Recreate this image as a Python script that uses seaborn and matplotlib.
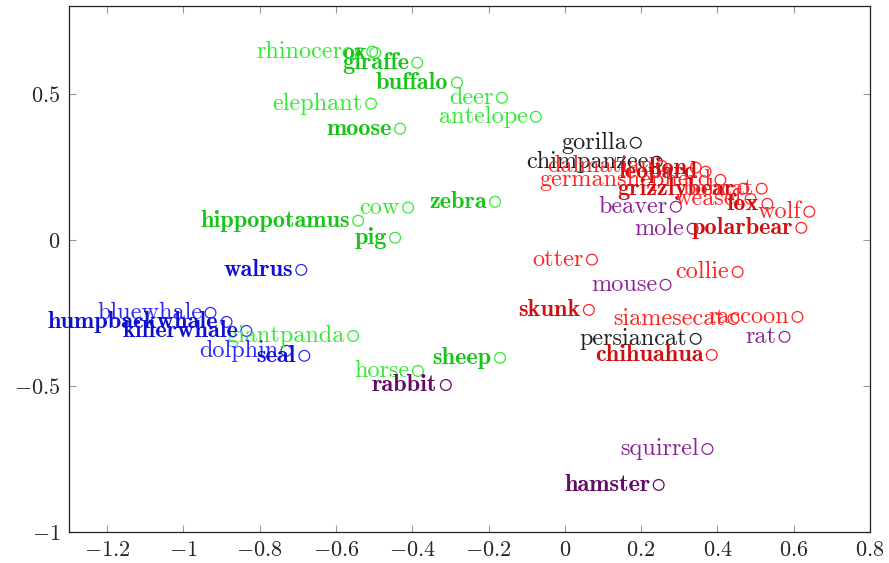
import matplotlib
matplotlib.use("Agg")
import matplotlib.pyplot as plt
from matplotlib.ticker import FuncFormatter
import seaborn as sns
import pandas as pd

# point labels, coordinates, colour group and bold flag
names = ["rhinoceros", "ox", "giraffe", "buffalo", "deer", "elephant", "antelope", "moose",
         "cow", "zebra", "hippopotamus", "pig", "horse", "sheep", "giantpanda",
         "walrus", "bluewhale", "humpbackwhale", "killerwhale", "dolphin", "seal",
         "gorilla", "chimpanzee", "persiancat",
         "dalmatian", "lion", "leopard", "germanshepherd", "grizzlybear", "bobcat", "weasel",
         "fox", "wolf", "polarbear", "otter", "collie", "skunk", "siamesecat", "raccoon", "chihuahua",
         "beaver", "mole", "mouse", "rat", "squirrel", "rabbit", "hamster"]
xs = [-0.505, -0.497, -0.387, -0.283, -0.165, -0.508, -0.076, -0.432,
      -0.411, -0.183, -0.542, -0.445, -0.385, -0.170, -0.555,
      -0.691, -0.929, -0.887, -0.835, -0.730, -0.683,
      0.186, 0.241, 0.343,
      0.254, 0.343, 0.369, 0.408, 0.468, 0.516, 0.487,
      0.531, 0.641, 0.620, 0.071, 0.453, 0.063, 0.442, 0.610, 0.385,
      0.291, 0.335, 0.264, 0.576, 0.374, -0.312, 0.246]
ys = [0.644, 0.640, 0.606, 0.538, 0.486, 0.466, 0.421, 0.380,
      0.110, 0.130, 0.065, 0.007, -0.449, -0.404, -0.329,
      -0.103, -0.250, -0.281, -0.312, -0.380, -0.397,
      0.332, 0.267, -0.339,
      0.253, 0.247, 0.233, 0.205, 0.175, 0.175, 0.140,
      0.123, 0.096, 0.041, -0.068, -0.110, -0.240, -0.271, -0.264, -0.394,
      0.113, 0.038, -0.154, -0.332, -0.716, -0.497, -0.839]
groups = ["green"] * 15 + ["blue"] * 6 + ["black"] * 3 + ["red"] * 16 + ["purple"] * 7
bold_names = ["ox", "giraffe", "buffalo", "moose", "zebra", "hippopotamus", "pig", "sheep",
              "walrus", "humpbackwhale", "killerwhale", "seal", "lion", "leopard", "grizzlybear",
              "fox", "polarbear", "skunk", "chihuahua", "rabbit", "hamster"]

df = pd.DataFrame({"name": names, "x": xs, "y": ys, "group": groups})
df["bold"] = df["name"].isin(bold_names)

light = {"green": "#33ea33", "blue": "#2a2aff", "black": "#202020", "red": "#ff2424", "purple": "#8a2596"}
dark = {"green": "#18c418", "blue": "#1010d0", "black": "#000000", "red": "#d01010", "purple": "#620a66"}
# circles of bold points take the darker shade only for the dark-purple group
df["shade"] = [("d_" if (b and g == "purple") else "l_") + g for g, b in zip(df["group"], df["bold"])]
palette = {**{"l_" + k: v for k, v in light.items()}, **{"d_" + k: v for k, v in dark.items()}}

sns.set_style("ticks")
plt.rcParams["font.family"] = ["cmr10", "DejaVu Serif"]
plt.rcParams["mathtext.fontset"] = "cm"
plt.rcParams["axes.formatter.use_mathtext"] = True

fig = plt.figure(figsize=(8.89, 5.63), dpi=100)
ax = fig.add_axes([0.0776, 0.0551, 0.9010, 0.9342])

sns.scatterplot(data=df, x="x", y="y", hue="shade", palette=palette, marker="o", s=60,
                linewidth=0.9, legend=False, ax=ax, zorder=2)
coll = ax.collections[0]
coll.set_edgecolors(coll.get_facecolors())
coll.set_facecolors("none")

for _, r in df.iterrows():
    if r["bold"]:
        ax.annotate(r["name"], (r["x"], r["y"]), xytext=(-6, 0), textcoords="offset points",
                    ha="right", va="center", fontsize=17.5, color=dark[r["group"]],
                    family=["cmb10", "DejaVu Serif"], zorder=3)
    else:
        ax.annotate(r["name"], (r["x"], r["y"]), xytext=(-6, 0), textcoords="offset points",
                    ha="right", va="center", fontsize=17.5, color=light[r["group"]], zorder=3)

ax.set_xlim(-1.3, 0.8)
ax.set_ylim(-1.0, 0.8)
ax.set_xticks([-1.2, -1, -0.8, -0.6, -0.4, -0.2, 0, 0.2, 0.4, 0.6, 0.8])
ax.set_yticks([-1, -0.5, 0, 0.5])
fmt = FuncFormatter(lambda v, p: "$%s$" % ("%g" % round(v, 2)))
ax.xaxis.set_major_formatter(fmt)
ax.yaxis.set_major_formatter(fmt)
ax.set_xlabel("")
ax.set_ylabel("")
ax.tick_params(direction="in", length=5, width=0.8, color="#999999", labelsize=16,
               top=True, right=True, pad=6)
for sp in ax.spines.values():
    sp.set_color("#222222")
    sp.set_linewidth(0.9)

fig.savefig("out.png", dpi=100)
